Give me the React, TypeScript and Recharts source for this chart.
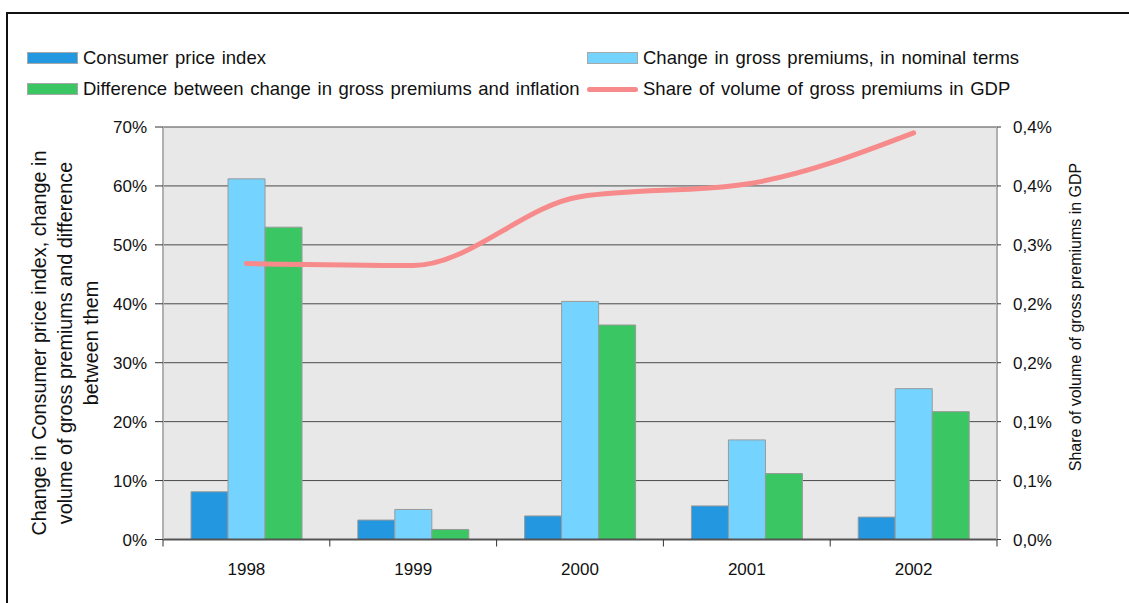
import React from 'react';
import { ComposedChart, Bar, Line, XAxis, YAxis, CartesianGrid } from 'recharts';

// Annual figures, in percent
const years = ['1998', '1999', '2000', '2001', '2002'];
const consumerPriceIndex = [8.1, 3.3, 4.0, 5.7, 3.8];
const nominalPremiums = [61.2, 5.1, 40.4, 16.9, 25.6];
const premiumsOverInflation = [53.0, 1.7, 36.4, 11.2, 21.7];
const shareOfGdp = [0.281, 0.279, 0.349, 0.362, 0.414];

const leftTicks = [0, 10, 20, 30, 40, 50, 60, 70];
const rightTicks = [0, 0.06, 0.12, 0.18, 0.24, 0.3, 0.36, 0.42];

const chartData = years.map((year, i) => ({
  year,
  cpi: consumerPriceIndex[i],
  nominal: nominalPremiums[i],
  diff: premiumsOverInflation[i],
  share: shareOfGdp[i],
}));

const FONT = '"Liberation Sans", Arial, sans-serif';
const WIDTH = 1129;
const HEIGHT = 603;
const PLOT_LEFT = 163;
const PLOT_RIGHT = 997;

const COLORS = {
  cpi: '#2397df',
  nominal: '#74d4ff',
  diff: '#3bc664',
  share: '#f78a8a',
  border: '#9a9a9a',
};

// category label plus a tick mark on the left edge of each band (and the right edge of the last)
const YearTick = (props: any) => {
  const { x, y, payload, index, visibleTicksCount } = props;
  const half = payload?.offset || (PLOT_RIGHT - PLOT_LEFT) / years.length / 2;
  const axisY = y - 23;
  const isLast = index === visibleTicksCount - 1;
  return (
    <g>
      <line x1={x - half} x2={x - half} y1={axisY} y2={axisY + 7} stroke="#333" strokeWidth={1} />
      {isLast && <line x1={x + half} x2={x + half} y1={axisY} y2={axisY + 7} stroke="#333" strokeWidth={1} />}
      <text x={x} y={y + 12} textAnchor="middle" fontSize={17} fontFamily={FONT} fill="#111">
        {payload.value}
      </text>
    </g>
  );
};

const formatRight = (v: number) => `${v.toFixed(1).replace('.', ',')}%`;

const LegendBox = ({ color, x, y }: { color: string; x: number; y: number }) => (
  <div
    style={{
      position: 'absolute',
      left: x,
      top: y - 6,
      width: 49,
      height: 10,
      background: color,
      border: '1px solid #a8a8a8',
    }}
  />
);

const LegendLine = ({ color, x, y }: { color: string; x: number; y: number }) => (
  <div
    style={{
      position: 'absolute',
      left: x,
      top: y - 2.5,
      width: 51,
      height: 5,
      borderRadius: 3,
      background: color,
    }}
  />
);

const LegendText = ({ text, x, y }: { text: string; x: number; y: number }) => (
  <div
    style={{
      position: 'absolute',
      left: x,
      top: y - 12,
      height: 24,
      lineHeight: '24px',
      fontSize: 18.5,
      wordSpacing: 1.5,
      whiteSpace: 'nowrap',
      color: '#111',
    }}
  >
    {text}
  </div>
);

const ROW1 = 58;
const ROW2 = 89;

export default function App() {
  return (
    <div
      style={{
        position: 'absolute',
        left: 0,
        top: 0,
        width: WIDTH,
        height: HEIGHT,
        background: '#fff',
        fontFamily: FONT,
        overflow: 'hidden',
      }}
    >
      {/* frame */}
      <div
        style={{
          position: 'absolute',
          left: 6,
          top: 12,
          width: WIDTH,
          height: HEIGHT,
          borderTop: '2px solid #111',
          borderLeft: '2px solid #111',
        }}
      />

      {/* legend */}
      <LegendBox color={COLORS.cpi} x={27} y={ROW1} />
      <LegendText text="Consumer price index" x={83} y={ROW1} />
      <LegendBox color={COLORS.nominal} x={587} y={ROW1} />
      <LegendText text="Change in gross premiums, in nominal terms" x={643} y={ROW1} />
      <LegendBox color={COLORS.diff} x={27} y={ROW2} />
      <LegendText text="Difference between change in gross premiums and inflation" x={83} y={ROW2} />
      <LegendLine color={COLORS.share} x={587} y={ROW2} />
      <LegendText text="Share of volume of gross premiums in GDP" x={643} y={ROW2} />

      {/* axis titles */}
      <div
        style={{
          position: 'absolute',
          left: 65,
          top: 343,
          width: 460,
          transform: 'translate(-50%, -50%) rotate(-90deg)',
          textAlign: 'center',
          fontSize: 19.8,
          lineHeight: '26px',
          color: '#111',
          whiteSpace: 'nowrap',
        }}
      >
        <div>Change in Consumer price index, change in</div>
        <div>volume of gross premiums and difference</div>
        <div>between them</div>
      </div>
      <div
        style={{
          position: 'absolute',
          left: 1076,
          top: 317,
          width: 400,
          transform: 'translate(-50%, -50%) rotate(-90deg)',
          textAlign: 'center',
          fontSize: 16,
          lineHeight: '22px',
          color: '#111',
          whiteSpace: 'nowrap',
        }}
      >
        Share of volume of gross premiums in GDP
      </div>

      <div style={{ position: 'absolute', left: 0, top: 0 }}>
        <ComposedChart
          width={WIDTH}
          height={HEIGHT}
          data={chartData}
          margin={{ top: 127, right: 0, bottom: 0, left: 0 }}
          barCategoryGap="16.8%"
          barGap={0}
        >
          <CartesianGrid
            yAxisId="left"
            vertical={false}
            fill="#e8e8e8"
            stroke="#4a4a4a"
            strokeWidth={1}
            horizontalValues={leftTicks}
          />
          <XAxis
            dataKey="year"
            height={63.5}
            tickSize={7}
            tickMargin={16}
            tickLine={false}
            axisLine={{ stroke: '#555', strokeWidth: 2 }}
            tick={<YearTick />}
            interval={0}
          />
          <YAxis
            yAxisId="left"
            width={PLOT_LEFT}
            domain={[0, 70]}
            ticks={leftTicks}
            interval={0}
            tickFormatter={(v: number) => `${v}%`}
            tickSize={8}
            tickMargin={8}
            axisLine={{ stroke: '#b0b0b0', strokeWidth: 2 }}
            tickLine={{ stroke: '#333' }}
            tick={{ fontSize: 17, fontFamily: FONT, fill: '#111' }}
          />
          <YAxis
            yAxisId="right"
            orientation="right"
            width={WIDTH - PLOT_RIGHT}
            domain={[0, 0.42]}
            ticks={rightTicks}
            interval={0}
            tickFormatter={formatRight}
            tickSize={4}
            tickMargin={12}
            axisLine={{ stroke: '#b0b0b0', strokeWidth: 2 }}
            tickLine={{ stroke: '#333' }}
            tick={{ fontSize: 17, fontFamily: FONT, fill: '#111', textAnchor: 'start' }}
          />
          <Bar yAxisId="left" dataKey="cpi" fill={COLORS.cpi} stroke={COLORS.border} strokeWidth={1} isAnimationActive={false} />
          <Bar yAxisId="left" dataKey="nominal" fill={COLORS.nominal} stroke={COLORS.border} strokeWidth={1} isAnimationActive={false} />
          <Bar yAxisId="left" dataKey="diff" fill={COLORS.diff} stroke={COLORS.border} strokeWidth={1} isAnimationActive={false} />
          <Line
            yAxisId="right"
            dataKey="share"
            type="monotone"
            stroke={COLORS.share}
            strokeWidth={5}
            strokeLinecap="round"
            dot={false}
            activeDot={false}
            isAnimationActive={false}
          />
        </ComposedChart>
      </div>
    </div>
  );
}
